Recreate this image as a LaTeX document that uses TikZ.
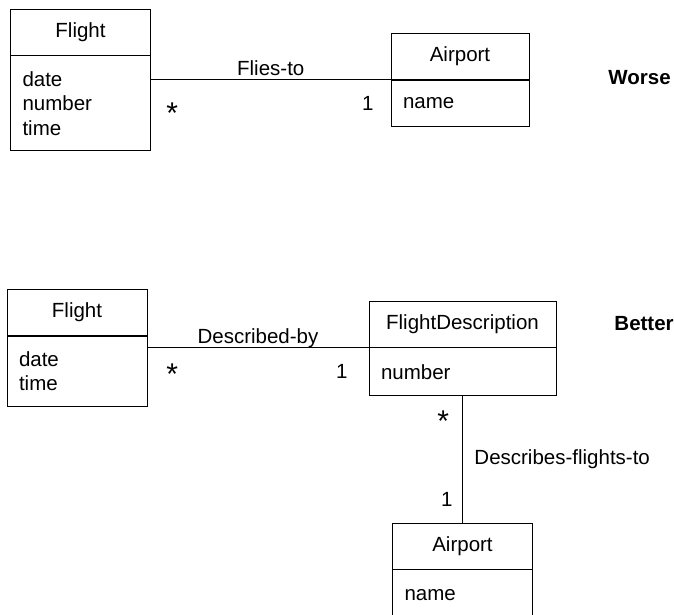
\documentclass[tikz,border=0pt]{standalone}
\usepackage{fontspec}
\setmainfont{Liberation Sans}
\usetikzlibrary{positioning}
\begin{document}
\begin{tikzpicture}[x=1pt, y=-1pt, line width=0.9pt,
    every node/.style={font=\fontsize{20.5}{24.5}\selectfont},
    head/.style={draw, minimum width=#1, minimum height=46pt, inner sep=0pt},
    body/.style={draw, align=left, inner xsep=12pt, inner ysep=0pt},
    assoc/.style={anchor=base, inner sep=0pt, yshift=4pt},
    many/.style={anchor=north west, inner sep=0pt, font=\fontsize{30}{30}\selectfont},
    one/.style={anchor=north east, inner sep=0pt},
    verdict/.style={anchor=base west, inner sep=0pt, font=\fontsize{20.5}{24.5}\selectfont\bfseries}]
\useasboundingbox (0,0) rectangle (674,615);
% worse
\node[head=140pt] (flight1) at (80.5,32) {Flight};
\node[body, text width=116pt, minimum height=95pt, below=0pt of flight1] (flight1attr) {date\\number\\time};
\node[head=138pt] (airport1) at (460,56.5) {Airport};
\node[body, text width=114pt, minimum height=46pt, below=0pt of airport1] (airport1attr) {name};
\draw (flight1attr.east |- airport1.south) -- node[assoc] (fliesto) {Flies-to} (airport1.south west);
\node[many] (many1) at (166,102) {*};
\node[one] (one1) at (374,96) {1};
\node[verdict] (worse) at (608,85) {Worse};
% better
\node[head=140pt] (flight2) at (77,312.5) {Flight};
\node[body, text width=116pt, minimum height=70pt, below=0pt of flight2] (flight2attr) {date\\time};
\node[head=187pt] (flightdesc) at (462.5,324) {FlightDescription};
\node[body, text width=163pt, minimum height=48pt, below=0pt of flightdesc] (flightdescattr) {number};
\node[head=140pt] (airport2) at (462.5,546) {Airport};
\node[body, text width=116pt, minimum height=50pt, below=0pt of airport2] (airport2attr) {name};
\draw (flight2attr.east |- flightdesc.south) -- node[assoc] (describedby) {Described-by} (flightdesc.south west);
\draw (flightdescattr) -- (airport2);
\node[assoc, anchor=base west, yshift=0pt] (describes) at (474,468) {Describes-flights-to};
\node[many] (many2) at (166,363) {*};
\node[one] (one2) at (348,364) {1};
\node[many] (many3) at (437,410) {*};
\node[one] (one3) at (453,492) {1};
\node[verdict] (better) at (614,330) {Better};
\end{tikzpicture}
\end{document}
